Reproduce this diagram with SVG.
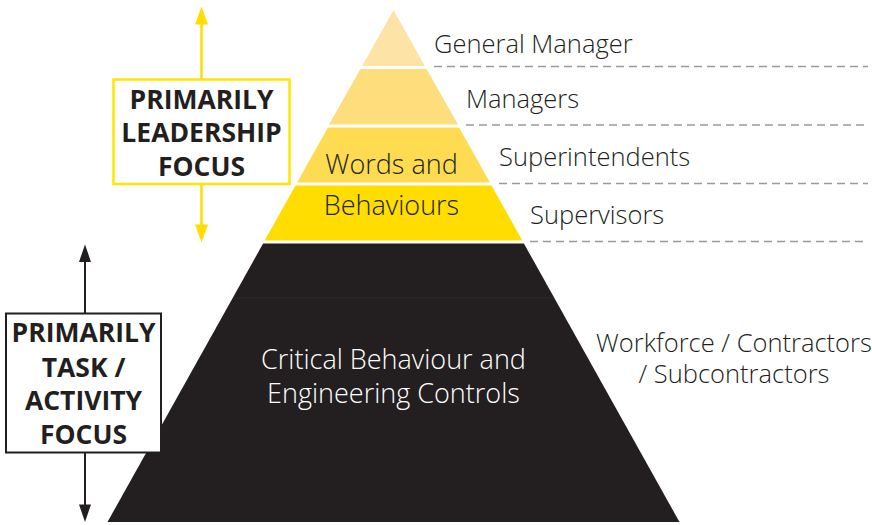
<svg xmlns="http://www.w3.org/2000/svg" width="872" height="525" viewBox="0 0 872 525">
<style>
.lbl{font-family:"Open Sans","Noto Sans",sans-serif;font-size:25.5px;font-weight:300;fill:#231f20}
.tier{font-family:"Open Sans","Noto Sans",sans-serif;font-size:27px;font-weight:300;text-anchor:middle}
.box{font-family:"Open Sans","Noto Sans",sans-serif;font-size:26.5px;font-weight:bold;fill:#231f20;text-anchor:middle}
.dash{stroke:#9a9a9a;stroke-width:1.5;stroke-dasharray:8 5;fill:none}
.yl{stroke:#ffdd00;stroke-width:2.5}
.kl{stroke:#231f20;stroke-width:2}
</style>
<rect width="872" height="525" fill="#ffffff"/>
<g id="pyramid">
<polygon id="tier-gm" points="393.5,10 424.8,66 362.2,66" fill="#fde3a6"/>
<polygon id="tier-managers" points="360.5,69 426.5,69 458,124.5 329,124.5" fill="#fddd7c"/>
<polygon id="tier-superintendents" points="327.9,127.5 459.1,127.5 489.9,182.5 297.1,182.5" fill="#fedb50"/>
<polygon id="tier-supervisors" points="295.5,185.5 491.5,185.5 522.3,240.5 264.7,240.5" fill="#ffdd00"/>
<polygon id="tier-workforce" points="263.1,243.5 523.9,243.5 679.5,522 107.5,522" fill="#231f20"/>
<line x1="233" y1="298" x2="554" y2="298" stroke="#2e2a2b" stroke-width="1"/>
<text class="tier" fill="#231f20" x="391.5" y="174">Words and</text>
<text class="tier" fill="#231f20" x="391.5" y="215">Behaviours</text>
<text class="tier" fill="#ffffff" x="393.5" y="369">Critical Behaviour and</text>
<text class="tier" fill="#ffffff" x="393.5" y="403">Engineering Controls</text>
</g>
<g id="connectors">
<line class="dash" x1="434" y1="66.5" x2="868" y2="66.5"/>
<line class="dash" x1="466" y1="125" x2="868" y2="125"/>
<line class="dash" x1="499" y1="183.5" x2="868" y2="183.5"/>
<line class="dash" x1="530" y1="241.5" x2="868" y2="241.5"/>
<line class="yl" x1="201.5" y1="79" x2="201.5" y2="22"/>
<polygon points="201.5,6.5 208,24.5 195,24.5" fill="#ffdd00"/>
<line class="yl" x1="201.5" y1="184" x2="201.5" y2="226"/>
<polygon points="201.5,242.5 208,224.5 195,224.5" fill="#ffdd00"/>
<line class="kl" x1="85" y1="313" x2="85" y2="260"/>
<polygon points="85,244.5 91,262 79,262" fill="#231f20"/>
<line class="kl" x1="85" y1="453" x2="85" y2="506"/>
<polygon points="85,522 91,504.5 79,504.5" fill="#231f20"/>
</g>
<g id="labels">
<text class="lbl" x="434" y="53">General Manager</text>
<text class="lbl" x="466" y="107.5">Managers</text>
<text class="lbl" x="499" y="166">Superintendents</text>
<text class="lbl" x="530" y="224">Supervisors</text>
<text class="lbl" x="734" y="352" text-anchor="middle">Workforce / Contractors</text>
<text class="lbl" x="734" y="383" text-anchor="middle">/ Subcontractors</text>
</g>
<g id="leadership-box">
<rect x="113.5" y="79.5" width="176" height="104.5" fill="#ffffff" stroke="#ffe600" stroke-width="2.5"/>
<text class="box" x="201.5" y="108.5">PRIMARILY</text>
<text class="box" x="201.5" y="142">LEADERSHIP</text>
<text class="box" x="201.5" y="176">FOCUS</text>
</g>
<g id="task-box">
<rect x="6" y="313.5" width="155" height="139" fill="#ffffff" stroke="#231f20" stroke-width="2"/>
<text class="box" x="83.5" y="342">PRIMARILY</text>
<text class="box" x="83.5" y="377">TASK /</text>
<text class="box" x="83.5" y="410">ACTIVITY</text>
<text class="box" x="83.5" y="444">FOCUS</text>
</g>
</svg>
